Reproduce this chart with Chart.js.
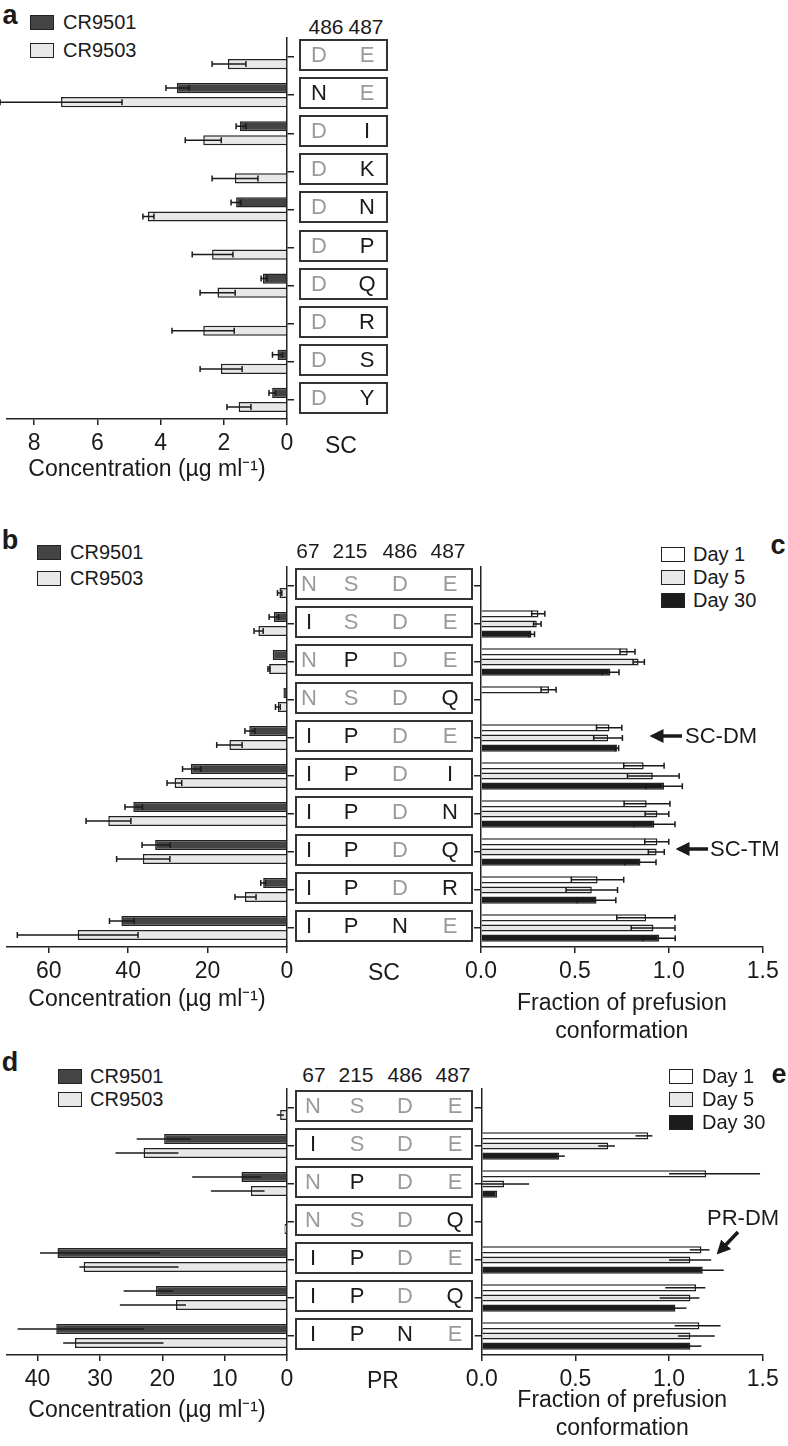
<!DOCTYPE html>
<html>
<head>
<meta charset="utf-8">
<script src="https://cdn.jsdelivr.net/npm/chart.js@4.4.0/dist/chart.umd.min.js"></script>
<style>
body { margin: 0; background: #fff; }
#fig { position: relative; width: 788px; height: 1446px; overflow: hidden; font-family: 'Liberation Sans', Arial, sans-serif; color: #1a1a1a; }
#fig canvas { position: absolute; }
.t { position: absolute; white-space: nowrap; line-height: 1; }
.box { position: absolute; border: 2px solid #333; box-sizing: border-box; }
.sw { position: absolute; border: 1.5px solid #222; box-sizing: border-box; }
</style>
</head>
<body>
<div id="fig"></div>
<script>
// ---- panel a : SC, positions 486/487 ----
const aRes486 = ['D', 'N', 'D', 'D', 'D', 'D', 'D', 'D', 'D', 'D'];
const aRes487 = ['E', 'E', 'I', 'K', 'N', 'P', 'Q', 'R', 'S', 'Y'];
const a9501 = [null, 3.48, 1.49, null, 1.61, null, 0.76, null, 0.30, 0.47];
const a9501Err = [null, [3.1, 3.83], [1.3, 1.61], null, [1.46, 1.77], null, [0.63, 0.82], null, [0.14, 0.46], [0.36, 0.57]];
const a9503 = [1.87, 7.15, 2.65, 1.65, 4.40, 2.37, 2.20, 2.65, 2.09, 1.53];
const a9503Err = [[1.3, 2.37], [5.22, 9.08], [2.08, 3.22], [0.92, 2.37], [4.21, 4.56], [1.71, 3.0], [1.64, 2.75], [1.67, 3.64], [1.42, 2.75], [1.14, 1.9]];
const aTicks = [0, 2, 4, 6, 8];

// ---- panel b / c : SC, positions 67/215/486/487 ----
const bRes67 = ['N', 'I', 'N', 'N', 'I', 'I', 'I', 'I', 'I', 'I'];
const bRes215 = ['S', 'S', 'P', 'S', 'P', 'P', 'P', 'P', 'P', 'P'];
const bRes486 = ['D', 'D', 'D', 'D', 'D', 'D', 'D', 'D', 'D', 'N'];
const bRes487 = ['E', 'E', 'E', 'Q', 'E', 'I', 'N', 'Q', 'R', 'E'];
const b9501 = [null, 3.3, 3.6, 0.9, 9.5, 24.2, 38.7, 33.2, 6.0, 41.7];
const b9501Err = [null, [2.1, 4.5], null, null, [8.1, 10.6], [21.7, 26.3], [36.4, 40.8], [29.4, 36.5], [5.4, 6.6], [38.5, 44.7]];
const b9503 = [1.9, 7.2, 4.5, 2.3, 14.5, 28.3, 45.0, 36.3, 10.6, 52.7];
const b9503Err = [[1.3, 2.4], [6.0, 8.3], [4.3, 4.8], [1.7, 2.9], [11.3, 17.7], [26.5, 30.2], [39.3, 50.6], [29.5, 42.9], [7.8, 13.1], [37.5, 67.9]];
const cDay1 = [null, 0.306, 0.781, 0.362, 0.684, 0.866, 0.882, 0.939, 0.621, 0.879];
const cDay1Err = [null, [0.27, 0.34], [0.74, 0.82], [0.32, 0.40], [0.615, 0.75], [0.76, 0.975], [0.762, 1.006], [0.872, 1.0], [0.481, 0.76], [0.723, 1.033]];
const cDay5 = [null, 0.297, 0.839, null, 0.677, 0.915, 0.939, 0.935, 0.59, 0.918];
const cDay5Err = [null, [0.28, 0.32], [0.81, 0.87], null, [0.60, 0.753], [0.78, 1.055], [0.874, 1.0], [0.891, 0.976], [0.453, 0.727], [0.80, 1.033]];
const cDay30 = [null, 0.269, 0.689, null, 0.724, 0.975, 0.923, 0.849, 0.615, 0.949];
const cDay30Err = [null, [0.255, 0.285], [0.645, 0.735], null, [0.715, 0.733], [0.878, 1.072], [0.813, 1.033], [0.766, 0.932], [0.512, 0.718], [0.864, 1.034]];

// ---- panel d / e : PR ----
const dRes67 = ['N', 'I', 'N', 'N', 'I', 'I', 'I'];
const dRes215 = ['S', 'S', 'P', 'S', 'P', 'P', 'P'];
const dRes486 = ['D', 'D', 'D', 'D', 'D', 'D', 'N'];
const dRes487 = ['E', 'E', 'E', 'Q', 'E', 'Q', 'E'];
const d9501 = [null, 19.7, 7.3, null, 36.8, 21.0, 37.0];
const d9501Err = [null, [15.4, 24.1], [4.2, 15.2], null, [20.4, 39.6], [18.3, 26.2], [22.9, 43.2]];
const d9503 = [1.1, 23.0, 5.8, 0.4, 32.6, 17.8, 34.0];
const d9503Err = [[0.5, 1.65], [17.4, 27.5], [3.6, 12.2], null, [17.4, 33.3], [16.2, 26.8], [19.8, 35.9]];
const eDay1 = [null, 0.889, 1.198, null, 1.173, 1.144, 1.162];
const eDay1Err = [null, [0.821, 0.911], [1.0, 1.486], null, [1.111, 1.216], [0.98, 1.194], [1.03, 1.275]];
const eDay5 = [null, 0.675, 0.119, null, 1.114, 1.114, 1.114];
const eDay5Err = [null, [0.622, 0.711], [0.0, 0.253], null, [1.0, 1.225], [0.95, 1.162], [1.048, 1.244]];
const eDay30 = [null, 0.413, 0.082, null, 1.18, 1.034, 1.114];
const eDay30Err = [null, [0.40, 0.444], null, null, [1.07, 1.292], [0.975, 1.093], [1.055, 1.173]];

const fracTicks = [0, 0.5, 1.0, 1.5];
const concTitle = 'Concentration (\u00b5g ml\u207b\u00b9)';
const fracTitle = ['Fraction of prefusion', 'conformation'];

const INK = '#1a1a1a';
const C9501 = '#444444', C9503 = '#e8e8e8';
const CDAY1 = '#ffffff', CDAY5 = '#e8e8e8', CDAY30 = '#1c1c1c';

Chart.defaults.font.family = "'Liberation Sans', Arial, sans-serif";
Chart.defaults.color = INK;

const fig = document.getElementById('fig');

function txt(s, x, y, size, opt) {
    opt = opt || {};
    const el = document.createElement('div');
    el.className = 't';
    el.textContent = s;
    el.style.left = x + 'px';
    el.style.top = y + 'px';
    el.style.fontSize = size + 'px';
    if (opt.bold) el.style.fontWeight = 'bold';
    if (opt.color) el.style.color = opt.color;
    el.style.transform = opt.align === 'left' ? 'translateY(-50%)' : 'translate(-50%,-50%)';
    fig.appendChild(el);
    return el;
}

function legend(items, x, textX, ys) {
    items.forEach((it, i) => {
        const sw = document.createElement('div');
        sw.className = 'sw';
        sw.style.left = x + 'px';
        sw.style.top = (ys[i] - 7) + 'px';
        sw.style.width = '24px';
        sw.style.height = '15px';
        sw.style.background = it.color;
        fig.appendChild(sw);
        txt(it.label, textX, ys[i], 20, { align: 'left' });
    });
}

// residue boxes between the two charts
function residueTable(cols, wt, xs, boxL, boxR, top, bottom) {
    const n = cols[0].length;
    const pitch = (bottom - top) / n;
    for (let i = 0; i < n; i++) {
        const cy = top + (i + 0.5) * pitch;
        const b = document.createElement('div');
        b.className = 'box';
        b.style.left = boxL + 'px';
        b.style.width = (boxR - boxL) + 'px';
        b.style.top = (cy - 18) + 'px';
        b.style.height = '32px';
        fig.appendChild(b);
        cols.forEach((col, k) => {
            txt(col[i], xs[k], cy - 2, 22, { color: col[i] === wt[k] ? '#9a9a9a' : INK });
        });
    }
}

const errorBars = {
    id: 'errorBars',
    afterDatasetsDraw(chart, args, opts) {
        const ctx = chart.ctx;
        const xs = chart.scales.x;
        chart.data.datasets.forEach((ds, i) => {
            const meta = chart.getDatasetMeta(i);
            meta.data.forEach((bar, j) => {
                const e = ds.errRange && ds.errRange[j];
                if (!e) return;
                const x1 = xs.getPixelForValue(e[0]);
                const x2 = xs.getPixelForValue(e[1]);
                const y = bar.y;
                ctx.save();
                ctx.strokeStyle = INK;
                ctx.lineWidth = 1.5;
                ctx.beginPath();
                ctx.moveTo(x1, y);
                ctx.lineTo(x2, y);
                if (opts.cap) {
                    ctx.moveTo(x1, y - opts.cap / 2); ctx.lineTo(x1, y + opts.cap / 2);
                    ctx.moveTo(x2, y - opts.cap / 2); ctx.lineTo(x2, y + opts.cap / 2);
                }
                ctx.stroke();
                ctx.restore();
            });
        });
    }
};

function ds(label, data, err, color) {
    return { label: label, data: data, errRange: err, backgroundColor: color, borderColor: '#222', borderWidth: 1.5 };
}

function barChart(box, area, conf) {
    const cv = document.createElement('canvas');
    cv.width = box.w; cv.height = box.h;
    cv.style.left = box.x + 'px';
    cv.style.top = box.y + 'px';
    fig.appendChild(cv);
    const yW = 10;
    const toLeft = conf.reverse;
    const pad = {
        left: area.left - box.x - (toLeft ? 0 : yW),
        right: box.x + box.w - area.right - (toLeft ? yW : 0),
        top: area.top - box.y,
        bottom: box.y + box.h - area.bottom - conf.xH
    };
    const axisLine = { display: true, color: '#222', width: 1.5 };
    return new Chart(cv, {
        type: 'bar',
        data: { labels: conf.labels, datasets: conf.datasets },
        options: {
            indexAxis: 'y',
            responsive: false,
            animation: false,
            layout: { padding: pad },
            datasets: { bar: { categoryPercentage: conf.catPct, barPercentage: conf.barPct } },
            plugins: { legend: { display: false }, tooltip: { enabled: false }, errorBars: { cap: conf.cap } },
            scales: {
                x: {
                    type: 'linear',
                    reverse: toLeft,
                    min: 0,
                    max: conf.max,
                    afterBuildTicks: s => { s.ticks = conf.ticks.map(v => ({ value: v })); },
                    ticks: { font: { size: 23 }, padding: 5, color: INK, callback: conf.fmt, maxRotation: 0 },
                    grid: { display: true, drawOnChartArea: false, drawTicks: true, tickLength: 6, color: '#222', lineWidth: 1.5 },
                    border: axisLine,
                    title: { display: true, text: conf.title, font: { size: 23, lineHeight: 1.2 }, color: INK, padding: 0 },
                    afterFit: s => { s.height = conf.xH; }
                },
                y: {
                    position: toLeft ? 'right' : 'left',
                    ticks: { display: false },
                    grid: { display: true, drawOnChartArea: false, drawTicks: true, tickLength: 7, offset: false, color: '#222', lineWidth: 1.5 },
                    border: axisLine,
                    afterFit: s => { s.width = yW; }
                }
            }
        },
        plugins: [errorBars]
    });
}

const fmtInt = v => String(v);
const fmt1 = v => Number(v).toFixed(1);

// ---------- panel a ----------
txt('a', 10, 15, 27, { bold: true });
legend([{ label: 'CR9501', color: C9501 }, { label: 'CR9503', color: C9503 }], 30, 63, [22, 50]);
barChart({ x: 0, y: 0, w: 300, h: 500 }, { left: 7, top: 38, right: 287, bottom: 419 }, {
    reverse: true, max: 8.86, ticks: aTicks, fmt: fmtInt, title: concTitle, xH: 64, cap: 6,
    catPct: 0.74, barPct: 0.72,
    labels: aRes486.map((r, i) => r + aRes487[i]),
    datasets: [ds('CR9501', a9501, a9501Err, C9501), ds('CR9503', a9503, a9503Err, C9503)]
});
txt('486', 326, 26, 21); txt('487', 366, 26, 21);
residueTable([aRes486, aRes487], ['D', 'E'], [319, 367], 299, 388, 38, 419);
txt('SC', 341, 445, 23);

// ---------- panel b ----------
txt('b', 10, 540, 27, { bold: true });
legend([{ label: 'CR9501', color: C9501 }, { label: 'CR9503', color: C9503 }], 37, 70, [552, 578]);
const bLabels = bRes67.map((r, i) => r + bRes215[i] + bRes486[i] + bRes487[i]);
barChart({ x: 0, y: 480, w: 300, h: 560 }, { left: 7, top: 567, right: 287, bottom: 947 }, {
    reverse: true, max: 70.5, ticks: [0, 20, 40, 60], fmt: fmtInt, title: concTitle, xH: 66, cap: 6,
    catPct: 0.74, barPct: 0.72,
    labels: bLabels,
    datasets: [ds('CR9501', b9501, b9501Err, C9501), ds('CR9503', b9503, b9503Err, C9503)]
});
[['67', 308], ['215', 350], ['486', 400], ['487', 448]].forEach(h => txt(h[0], h[1], 550, 21));
residueTable([bRes67, bRes215, bRes486, bRes487], ['N', 'S', 'D', 'E'], [309, 351, 400, 450], 295, 473, 567, 947);
txt('SC', 384, 972, 23);

// ---------- panel c ----------
txt('c', 778, 545, 27, { bold: true });
legend([{ label: 'Day 1', color: CDAY1 }, { label: 'Day 5', color: CDAY5 }, { label: 'Day 30', color: CDAY30 }], 661, 693, [554, 577, 600]);
barChart({ x: 460, y: 480, w: 328, h: 580 }, { left: 480, top: 567, right: 762.7, bottom: 947 }, {
    reverse: false, max: 1.5, ticks: fracTicks, fmt: fmt1, title: fracTitle, xH: 98, cap: 6,
    catPct: 0.8, barPct: 0.7,
    labels: bLabels,
    datasets: [ds('Day 1', cDay1, cDay1Err, CDAY1), ds('Day 5', cDay5, cDay5Err, CDAY5), ds('Day 30', cDay30, cDay30Err, CDAY30)]
});

// ---------- panel d ----------
txt('d', 10, 1062, 27, { bold: true });
legend([{ label: 'CR9501', color: C9501 }, { label: 'CR9503', color: C9503 }], 58, 90, [1076, 1099]);
const dLabels = dRes67.map((r, i) => r + dRes215[i] + dRes486[i] + dRes487[i]);
barChart({ x: 0, y: 1040, w: 300, h: 406 }, { left: 7, top: 1089, right: 287, bottom: 1355 }, {
    reverse: true, max: 44.9, ticks: [0, 10, 20, 30, 40], fmt: fmtInt, title: concTitle, xH: 69, cap: 0,
    catPct: 0.74, barPct: 0.72,
    labels: dLabels,
    datasets: [ds('CR9501', d9501, d9501Err, C9501), ds('CR9503', d9503, d9503Err, C9503)]
});
[['67', 314], ['215', 356], ['486', 405], ['487', 453]].forEach(h => txt(h[0], h[1], 1074, 21));
residueTable([dRes67, dRes215, dRes486, dRes487], ['N', 'S', 'D', 'E'], [313, 357, 405, 455], 295, 473, 1089, 1355);
txt('PR', 383, 1380, 23);

// ---------- panel e ----------
txt('e', 779, 1074, 27, { bold: true });
legend([{ label: 'Day 1', color: CDAY1 }, { label: 'Day 5', color: CDAY5 }, { label: 'Day 30', color: CDAY30 }], 669, 702, [1076, 1099, 1122]);
barChart({ x: 460, y: 1040, w: 328, h: 406 }, { left: 481.7, top: 1089, right: 762.7, bottom: 1355 }, {
    reverse: false, max: 1.5, ticks: fracTicks, fmt: fmt1, title: fracTitle, xH: 87, cap: 0,
    catPct: 0.8, barPct: 0.7,
    labels: dLabels,
    datasets: [ds('Day 1', eDay1, eDay1Err, CDAY1), ds('Day 5', eDay5, eDay5Err, CDAY5), ds('Day 30', eDay30, eDay30Err, CDAY30)]
});

// ---------- arrows + notes ----------
txt('SC-DM', 685, 736, 22, { align: 'left' });
txt('SC-TM', 710, 849, 22, { align: 'left' });
txt('PR-DM', 707, 1218, 22, { align: 'left' });
const svgNS = 'http://www.w3.org/2000/svg';
const svg = document.createElementNS(svgNS, 'svg');
svg.setAttribute('width', 788); svg.setAttribute('height', 1446);
svg.style.position = 'absolute'; svg.style.left = '0'; svg.style.top = '0';
svg.innerHTML =
    '<defs><marker id="ah" markerWidth="4" markerHeight="4" refX="3" refY="2" orient="auto">' +
    '<path d="M0,0 L4,2 L0,4 z" fill="#1a1a1a"/></marker></defs>' +
    '<line x1="682" y1="736" x2="653" y2="736" stroke="#1a1a1a" stroke-width="3.5" marker-end="url(#ah)"/>' +
    '<line x1="708" y1="849" x2="679" y2="849" stroke="#1a1a1a" stroke-width="3.5" marker-end="url(#ah)"/>' +
    '<line x1="738" y1="1232" x2="719" y2="1252" stroke="#1a1a1a" stroke-width="3.5" marker-end="url(#ah)"/>';
fig.appendChild(svg);
</script>
</body>
</html>
